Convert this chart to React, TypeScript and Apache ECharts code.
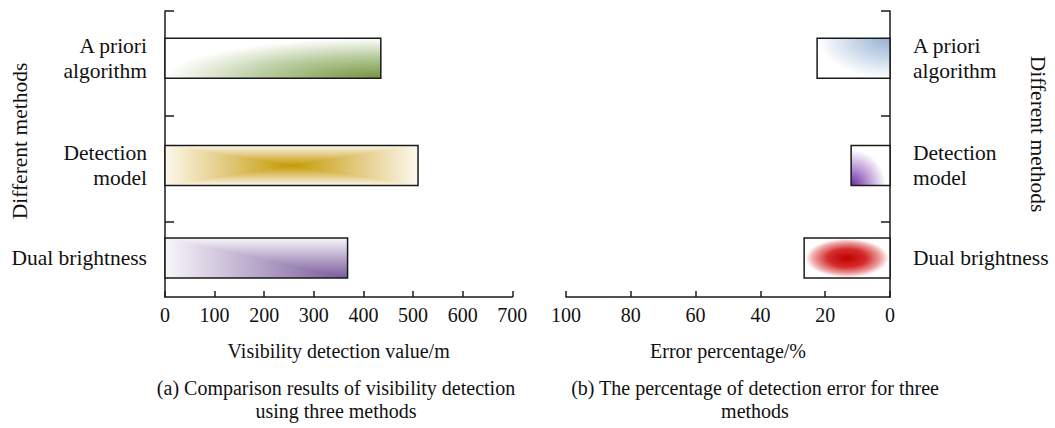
import React, { useEffect, useRef } from 'react';
import * as echarts from 'echarts';

// Methods compared in both panels (top to bottom)
const methods = ['A priori\nalgorithm', 'Detection\nmodel', 'Dual brightness'];
// (a) visibility detection value, metres
const visibilityValues = [435, 510, 368];
// (b) detection error, percent
const errorValues = [22.5, 12, 26.5];
// Row centres and row separators on the vertical axis
const rowPositions = [0.45, 1.47, 2.35];
const rowSeparators = [0, 1, 2];
const rowAxisMax = 2.72;

const FONT = 'Liberation Serif, Times New Roman, serif';
const INK = '#111111';
const BAR_HEIGHT = 40;

const LG = (x: number, y: number, x2: number, y2: number, stops: [number, string][]) =>
  new echarts.graphic.LinearGradient(x, y, x2, y2, stops.map(([offset, color]) => ({ offset, color })));
const RG = (x: number, y: number, r: number, stops: [number, string][]) =>
  new echarts.graphic.RadialGradient(x, y, r, stops.map(([offset, color]) => ({ offset, color })));

type Fill = (x: number, y: number, w: number, h: number) => any[];

const rect = (x: number, y: number, w: number, h: number, fill: any) => ({
  type: 'rect',
  shape: { x, y, width: w, height: h },
  style: { fill },
});

// gradient stops: 0 = outer/pale end, 1 = saturated end
const goldStops: [number, string][] = [[0, '#fcf8ec'], [0.5, '#e1c77a'], [1, '#c49b00']];
const purpleStops: [number, string][] = [[0, '#f8f6fa'], [0.5, '#b8a7ca'], [1, '#775a98']];

// left panel fills
const leftFills: Fill[] = [
  (x, y, w, h) => [rect(x, y, w, h, RG(1, 1, 1, [[0, '#74943c'], [0.55, '#b9cc9f'], [1, '#ffffff']]))],
  (x, y, w, h) => {
    const mirrored: [number, string][] = [
      ...goldStops.map(([o, c]) => [o / 2, c] as [number, string]),
      ...goldStops.slice(0, -1).reverse().map(([o, c]) => [1 - o / 2, c] as [number, string]),
    ];
    const cx = x + w / 2;
    const cy = y + h / 2;
    return [
      rect(x, y, w, h, LG(0, 0, 1, 0, mirrored)),
      { type: 'polygon', shape: { points: [[x, y], [x + w, y], [cx, cy]] }, style: { fill: LG(0, 0, 0, 1, goldStops) } },
      { type: 'polygon', shape: { points: [[x, y + h], [x + w, y + h], [cx, cy]] }, style: { fill: LG(0, 1, 0, 0, goldStops) } },
    ];
  },
  (x, y, w, h) => [
    rect(x, y, w, h, LG(0, 0, 1, 0, purpleStops)),
    { type: 'polygon', shape: { points: [[x, y], [x + w, y], [x + w, y + h]] }, style: { fill: LG(0, 0, 0, 1, purpleStops) } },
  ],
];

// right panel fills
const rightFills: Fill[] = [
  (x, y, w, h) => [rect(x, y, w, h, RG(1, 0, 1, [[0, '#92b0d5'], [0.5, '#c8d7e9'], [1, '#ffffff']]))],
  (x, y, w, h) => [rect(x, y, w, h, RG(0, 1, 1, [[0, '#6a2a9c'], [0.45, '#b996d4'], [0.9, '#ffffff']]))],
  (x, y, w, h) => [rect(x, y, w, h, RG(0.5, 0.5, 0.5, [[0, '#c00000'], [0.45, '#d52c2c'], [0.78, '#eea3a3'], [0.97, '#ffffff']]))],
];

const makeRenderItem = (fills: Fill[]) => (params: any, api: any) => {
  const v = api.value(0);
  const p = api.value(1);
  const a = api.coord([0, p]);
  const b = api.coord([v, p]);
  const x = Math.min(a[0], b[0]);
  const w = Math.abs(b[0] - a[0]);
  const y = a[1] - BAR_HEIGHT / 2;
  const h = BAR_HEIGHT;
  const children = fills[params.dataIndex](x, y, w, h);
  children.push({
    type: 'rect',
    shape: { x, y, width: w, height: h },
    style: { fill: 'none', stroke: '#1a1a1a', lineWidth: 1.5 },
  });
  return { type: 'group', children };
};

const rowLabel = (value: number) => {
  const i = rowPositions.findIndex((p) => Math.abs(p - value) < 1e-6);
  return i >= 0 ? methods[i] : '';
};

const axisLineStyle = { color: '#1a1a1a', width: 1.5 };

const rowAxis = (gridIndex: number, position: 'left' | 'right', margin: number) => ({
  type: 'value',
  gridIndex,
  position,
  inverse: true,
  min: 0,
  max: rowAxisMax,
  axisLine: { show: true, onZero: false, lineStyle: axisLineStyle },
  axisTick: { show: true, inside: true, length: 9, customValues: rowSeparators, lineStyle: axisLineStyle },
  axisLabel: {
    show: true,
    customValues: rowPositions,
    formatter: rowLabel,
    fontSize: 21.5,
    lineHeight: 25,
    margin,
    color: INK,
    fontFamily: FONT,
  },
  splitLine: { show: false },
});

const valueAxis = (gridIndex: number, max: number, interval: number, inverse: boolean, name: string) => ({
  type: 'value',
  gridIndex,
  position: 'bottom',
  min: 0,
  max,
  interval,
  inverse,
  axisLine: { show: true, onZero: false, lineStyle: axisLineStyle },
  axisTick: { show: true, inside: true, length: 6, lineStyle: axisLineStyle },
  axisLabel: { margin: 8, fontSize: 20, color: INK, fontFamily: FONT },
  splitLine: { show: false },
  name,
  nameLocation: 'middle',
  nameGap: 44,
  nameTextStyle: { fontSize: 20, color: INK, fontFamily: FONT },
});

export default function App() {
  const ref = useRef<HTMLDivElement>(null);

  useEffect(() => {
    if (!ref.current) return;
    const chart = echarts.init(ref.current, undefined, { renderer: 'svg' });
    chart.setOption({
      animation: false,
      backgroundColor: '#ffffff',
      textStyle: { fontFamily: FONT },
      grid: [
        { left: 165, top: 11, width: 347.3, height: 286 },
        { left: 566, top: 11, width: 324, height: 286 },
      ],
      xAxis: [
        valueAxis(0, 700, 100, false, 'Visibility detection value/m'),
        valueAxis(1, 100, 20, true, 'Error percentage/%'),
      ],
      yAxis: [rowAxis(0, 'left', 18), rowAxis(1, 'right', 23)],
      series: [
        {
          type: 'custom',
          name: 'Visibility detection value',
          xAxisIndex: 0,
          yAxisIndex: 0,
          encode: { x: 0, y: 1 },
          data: visibilityValues.map((v, i) => [v, rowPositions[i]]),
          renderItem: makeRenderItem(leftFills),
        },
        {
          type: 'custom',
          name: 'Error percentage',
          xAxisIndex: 1,
          yAxisIndex: 1,
          encode: { x: 0, y: 1 },
          data: errorValues.map((v, i) => [v, rowPositions[i]]),
          renderItem: makeRenderItem(rightFills),
        },
      ],
      graphic: [
        {
          type: 'text',
          x: 20,
          y: 141,
          rotation: Math.PI / 2,
          style: { text: 'Different methods', fontSize: 21.5, fontFamily: FONT, fill: INK, align: 'center', verticalAlign: 'middle' },
        },
        {
          type: 'text',
          x: 1038,
          y: 134,
          rotation: -Math.PI / 2,
          style: { text: 'Different methods', fontSize: 21.5, fontFamily: FONT, fill: INK, align: 'center', verticalAlign: 'middle' },
        },
        {
          type: 'text',
          x: 336,
          y: 376,
          style: {
            text: '(a) Comparison results of visibility detection\nusing three methods',
            fontSize: 20,
            lineHeight: 23,
            fontFamily: FONT,
            fill: INK,
            align: 'center',
            verticalAlign: 'top',
          },
        },
        {
          type: 'text',
          x: 755,
          y: 376,
          style: {
            text: '(b) The percentage of detection error for three\nmethods',
            fontSize: 20,
            lineHeight: 23,
            fontFamily: FONT,
            fill: INK,
            align: 'center',
            verticalAlign: 'top',
          },
        },
      ],
    });
    return () => chart.dispose();
  }, []);

  return (
    <div
      ref={ref}
      style={{ position: 'fixed', left: 0, top: 0, width: 1055, height: 428, background: '#fff' }}
    />
  );
}
